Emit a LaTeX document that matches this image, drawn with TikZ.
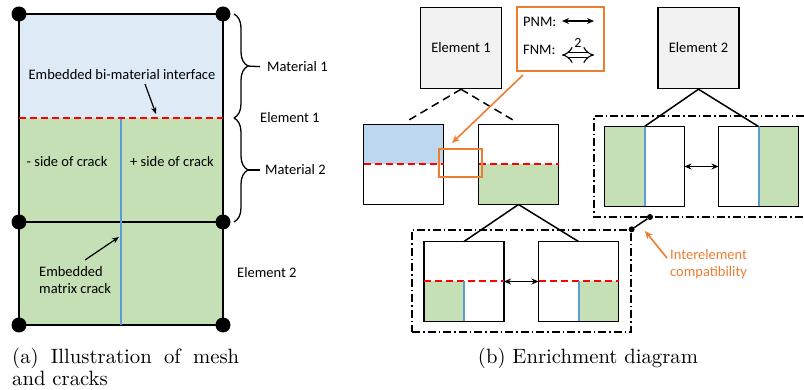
\documentclass[tikz,border=0pt]{standalone}
\usepackage{fontspec}
\newfontfamily\diagfont{Carlito}
\newfontfamily\capfont{lmroman10-regular.otf}
\definecolor{matblue}{RGB}{222, 235, 247}
\definecolor{subblue}{RGB}{189, 215, 238}
\definecolor{matgreen}{RGB}{197, 224, 180}
\definecolor{crackblue}{RGB}{91, 155, 213}
\definecolor{popgray}{RGB}{242, 242, 242}
\definecolor{poporange}{RGB}{237, 125, 49}
\usetikzlibrary{shapes, arrows.meta, positioning, calc, decorations.pathreplacing}

\tikzset{
  lbl/.style={font=\diagfont\fontsize{14.5}{17}\selectfont, inner sep=0pt},
  caption/.style={inner sep=0pt, font=\capfont\fontsize{20.7}{21.5}\selectfont},
  meshbox/.style={draw, line width=1.5pt, inner sep=0pt, outer sep=0pt},
  meshdot/.style={circle, fill=black, minimum size=15pt, inner sep=0pt},
  linkdot/.style={circle, fill=black, minimum size=6pt, inner sep=0pt},
  iface/.style={draw=red, line width=2pt, dash pattern=on 7pt off 4pt},
  crack/.style={draw=crackblue, line width=2pt},
  pointer/.style={-{Stealth[length=7pt, width=5.5pt]}, line width=1.2pt},
  brace/.style={decorate, decoration={brace, amplitude=14pt}, line width=1.3pt},
  elembox/.style={lbl, draw, fill=popgray, line width=1.5pt, minimum width=81pt, minimum height=81pt},
  subbox/.style={draw, line width=1.5pt, minimum width=80pt, minimum height=80pt, inner sep=0pt, outer sep=0pt},
  legendbox/.style={draw=poporange, fill=white, line width=2.8pt, minimum width=87pt, minimum height=64pt},
  hilite/.style={draw=poporange, line width=2.8pt, minimum width=43pt, minimum height=28pt},
  tree/.style={line width=1.5pt},
  treedash/.style={tree, dash pattern=on 8pt off 5pt},
  frameline/.style={line width=1.3pt, dash pattern=on 8pt off 3pt on 1.5pt off 3pt},
  pnmarrow/.style={{Stealth[length=7pt, width=6pt]}-{Stealth[length=7pt, width=6pt]}, line width=1.4pt},
  fnmarrow/.style={double, double distance=4.5pt, line width=1.1pt, {Implies}-{Implies}},
  callout/.style={poporange, line width=1.6pt, -{Stealth[length=8pt, width=7pt]}},
  % partial fills of the enriched sub-elements
  topblue/.style={path picture={
      \fill[subblue] (path picture bounding box.north west) rectangle (path picture bounding box.east);}},
  lowgreen/.style={path picture={
      \fill[matgreen] (path picture bounding box.west) rectangle (path picture bounding box.south east);}},
  leftgreen/.style={path picture={
      \fill[matgreen] (path picture bounding box.north west) rectangle (path picture bounding box.south);}},
  rightgreen/.style={path picture={
      \fill[matgreen] (path picture bounding box.north) rectangle (path picture bounding box.south east);}},
  quadleft/.style={path picture={
      \fill[matgreen] (path picture bounding box.west) rectangle (path picture bounding box.south);}},
  quadright/.style={path picture={
      \fill[matgreen] (path picture bounding box.center) rectangle (path picture bounding box.south east);}},
}

\begin{document}
\begin{tikzpicture}[x=1pt, y=-1pt]
  \useasboundingbox (0,0) rectangle (804,390);

  % (a) mesh and cracks
  \node[meshbox, minimum width=204pt, minimum height=208pt, path picture={
      \fill[matblue] (path picture bounding box.north west) rectangle (path picture bounding box.east);
      \fill[matgreen] (path picture bounding box.west) rectangle (path picture bounding box.south east);
    }] (elemA) at (121,118) {};
  \node[meshbox, fill=matgreen, minimum width=204pt, minimum height=103pt] (elemB) at (121,273.5) {};
  \draw[crack] (elemA.center) -- (elemB.south);
  \draw[iface] (elemA.west) -- (elemA.east);
  \foreach \n/\p in {a/elemA.north west, b/elemA.north east, c/elemB.north west,
                     d/elemB.north east, e/elemB.south west, f/elemB.south east}
    \node[meshdot] (dot-\n) at (\p) {};

  \node[lbl] (ifacelbl) at (122,75) {Embedded bi-material interface};
  \node[lbl] (minus) at (67,162) {- side of crack};
  \node[lbl] (plus) at (172,162) {+ side of crack};
  \node[lbl, anchor=west, align=left] (cracklbl) at (39,280.5) {Embedded\\matrix crack};
  \coordinate (ifaceA) at (145,84);
  \coordinate (ifaceB) at (156,114);
  \draw[pointer] (ifaceA) -- (ifaceB);
  \coordinate (crackA) at (85,260);
  \coordinate (crackB) at (119,237);
  \draw[pointer] (crackA) -- (crackB);

  % braces for the two materials
  \coordinate (braceA) at (234,14);
  \coordinate (braceB) at (234,118);
  \coordinate (braceC) at (234,222);
  \draw[brace] (braceA) -- (braceB);
  \draw[brace] (braceB) -- (braceC);
  \node[lbl, anchor=west] (mat1) at (267,67) {Material 1};
  \node[lbl, anchor=west] (mat2) at (265,170) {Material 2};
  \node[lbl, anchor=west] (elem1) at (260,118) {Element 1};
  \node[lbl, anchor=west] (elem2) at (237,273) {Element 2};
  \coordinate (tipA) at (247,66);
  \coordinate (tipB) at (247,170);
  \draw[tree, line width=1.3pt, shorten >=7pt] (tipA) -- (mat1.west);
  \draw[tree, line width=1.3pt, shorten >=5pt] (tipB) -- (mat2.west);

  \node[caption, anchor=north west, align=left] (capA) at (12,348)
    {\makebox[227pt][s]{(a) Illustration of mesh}\\and cracks};

  % (b) enrichment diagram
  \node[elembox] (tree1) at (461,48) {Element 1};
  \node[elembox] (tree2) at (698.5,48) {Element 2};

  \node[subbox, topblue] (sub1) at (403.5,164.5) {};
  \node[subbox, lowgreen] (sub2) at (518.5,164.5) {};
  \node[subbox, leftgreen] (sub3) at (644.5,166.5) {};
  \node[subbox, rightgreen] (sub4) at (758.5,166.5) {};
  \node[subbox, quadleft] (sub5) at (464,281.5) {};
  \node[subbox, quadright] (sub6) at (578.5,281.5) {};
  \foreach \s in {sub1, sub2, sub5, sub6}
    \draw[iface] (\s.west) -- (\s.east);
  \foreach \s in {sub3, sub4}
    \draw[crack] (\s.north) -- (\s.south);
  \foreach \s in {sub5, sub6}
    \draw[crack] (\s.center) -- (\s.south);

  \coordinate (tree1L) at (409,120);
  \coordinate (tree1R) at (513,120);
  \draw[treedash] (tree1.south) -- (tree1L);
  \draw[treedash] (tree1.south) -- (tree1R);
  \draw[tree] (tree2.south) -- (sub3.north);
  \draw[tree] (tree2.south) -- (sub4.north);
  \draw[tree] (sub2.south) -- (sub5.north);
  \draw[tree] (sub2.south) -- (sub6.north);
  \draw[pnmarrow] (sub3.east) -- (sub4.west);
  \draw[pnmarrow] (sub5.east) -- (sub6.west);

  % legend and highlighted gap
  \node[legendbox] (legend) at (560.5,39) {};
  \node[lbl, anchor=west] (pnm) at (523,22) {PNM:};
  \node[lbl, anchor=west] (fnm) at (523,50) {FNM:};
  \coordinate (pnmL) at (562,21);
  \coordinate (pnmR) at (594,21);
  \draw[pnmarrow] (pnmL) -- (pnmR);
  \coordinate (fnmL) at (562,55);
  \coordinate (fnmR) at (594,55);
  \draw[fnmarrow] (fnmL) -- (fnmR);
  \node[lbl, font=\diagfont\fontsize{14}{15}\selectfont] (fnmtwo) at (578,43) {2};

  \node[hilite] (gap) at (460.5,163) {};
  \coordinate (legfoot) at (523,75);
  \coordinate (gaptip) at (452,143);
  \draw[callout] (legfoot) -- (gaptip);

  % compatibility frames
  \draw[frameline] (804,116) -- (594,116) -- (594,217) -- (804,217);
  \node[draw, frameline, minimum width=219pt, minimum height=102pt] (frameB) at (521.5,281) {};
  \node[linkdot] (linkA) at (650,217) {};
  \node[linkdot] (linkB) at (frameB.north east) {};
  \draw[tree] (linkA) -- (linkB);
  \node[lbl, text=poporange, anchor=north west, align=left] (compat) at (670,249) {Interelement\\compatibility};
  \coordinate (compatA) at (667,258);
  \coordinate (compatB) at (645,231);
  \draw[callout] (compatA) -- (compatB);

  \node[caption, anchor=base] (capB) at (588,363) {(b) Enrichment diagram};
\end{tikzpicture}
\end{document}
